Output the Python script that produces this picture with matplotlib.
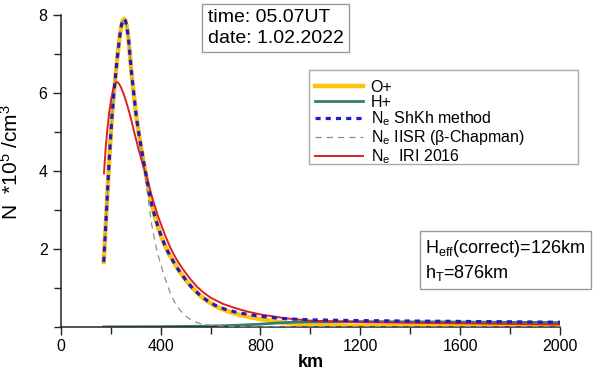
import matplotlib
matplotlib.use("Agg")
import matplotlib.pyplot as plt
from matplotlib.patches import Rectangle
from matplotlib.ticker import MultipleLocator

plt.rcParams['font.family'] = ['Liberation Sans', 'DejaVu Sans']
plt.rcParams['mathtext.fontset'] = 'custom'
plt.rcParams['mathtext.rm'] = 'Liberation Sans'
plt.rcParams['mathtext.it'] = 'Liberation Sans:italic'

# --- dane (km, N*1e5/cm3) ---
km_shkh = [172, 180, 189, 196, 205, 212, 219, 227, 235, 241, 247, 253, 259, 265, 272, 283,
           293, 303, 313, 323, 333, 343, 354, 365, 377, 389, 404, 420, 435, 449, 470, 490,
           506, 523, 540, 560, 590, 620, 660, 700, 750, 800, 850, 900, 1000, 1200, 1600, 2000]
n_shkh = [1.67, 2.6, 3.7, 4.5, 5.4, 5.95, 6.42, 6.95, 7.4, 7.68, 7.85, 7.91, 7.86, 7.7, 7.35, 6.55,
          5.95, 5.38, 4.95, 4.57, 4.2, 3.85, 3.46, 3.12, 2.84, 2.58, 2.3, 2.05, 1.86, 1.7, 1.48, 1.3,
          1.16, 1.03, 0.92, 0.8, 0.66, 0.55, 0.45, 0.38, 0.32, 0.27, 0.24, 0.21, 0.18, 0.16, 0.14, 0.12]

km_oplus = km_shkh
n_oplus = [1.67, 2.6, 3.7, 4.5, 5.4, 5.95, 6.42, 6.95, 7.4, 7.68, 7.85, 7.91, 7.86, 7.7, 7.35, 6.55,
           5.95, 5.38, 4.95, 4.57, 4.2, 3.85, 3.46, 3.12, 2.84, 2.58, 2.3, 2.05, 1.86, 1.7, 1.48, 1.3,
           1.16, 1.03, 0.92, 0.79, 0.65, 0.53, 0.42, 0.34, 0.26, 0.2, 0.15, 0.1, 0.05, 0.025, 0.015, 0.01]

km_hplus = [172, 400, 600, 700, 800, 870, 930, 1000, 1200, 1600, 2000]
n_hplus = [0.0, 0.005, 0.02, 0.04, 0.07, 0.1, 0.12, 0.13, 0.135, 0.125, 0.11]

km_iisr = [172, 180, 189, 196, 205, 212, 219, 227, 235, 241, 247, 253, 259, 265, 272, 283,
           293, 303, 313, 323, 333, 343, 354, 365, 374, 383, 391, 400, 411, 423, 436, 448,
           460, 474, 489, 504, 520, 538, 556, 578, 600, 650, 720, 800, 2000]
n_iisr = [1.67, 2.6, 3.7, 4.5, 5.4, 5.95, 6.42, 6.95, 7.4, 7.68, 7.85, 7.91, 7.86, 7.7, 7.35, 6.55,
          5.95, 5.38, 4.95, 4.57, 4.15, 3.65, 3.1, 2.6, 2.3, 2.02, 1.82, 1.62, 1.38, 1.15, 0.92, 0.74,
          0.59, 0.46, 0.35, 0.26, 0.19, 0.13, 0.09, 0.06, 0.04, 0.018, 0.008, 0.005, 0.003]

km_iri = [173, 180, 187, 194, 202, 210, 217, 223, 230, 240, 252, 265, 280, 295, 310, 325,
          343, 365, 389, 420, 440, 463, 480, 500, 520, 543, 570, 600, 650, 700, 750, 800, 900,
          1000, 1200, 1600, 2000]
n_iri = [3.94, 4.6, 5.1, 5.5, 5.85, 6.1, 6.24, 6.29, 6.27, 6.17, 5.98, 5.72, 5.38, 4.98, 4.6, 4.25,
         3.88, 3.35, 2.85, 2.32, 2.02, 1.74, 1.57, 1.39, 1.22, 1.05, 0.89, 0.75, 0.59, 0.48, 0.39, 0.32,
         0.22, 0.16, 0.12, 0.09, 0.06]

x_ticks = [0, 400, 800, 1200, 1600, 2000]
y_ticks = [2, 4, 6, 8]

W, H = 602, 374
fig = plt.figure(figsize=(W / 100, H / 100), dpi=100)
ax = fig.add_axes([0.101, 0.126, 0.829, 0.833])

ax.plot(km_oplus, n_oplus, color='#FFC20E', lw=3.2, label='O+', zorder=2)
ax.plot(km_hplus, n_hplus, color='#347E70', lw=2.0, label='H+', zorder=2)
ax.plot(km_shkh, n_shkh, color='#1C1CC8', lw=2.3, ls=(0, (1.6, 1.6)),
        label='N$_\\mathregular{e}$ ShKh method', zorder=4)
ax.plot(km_iisr, n_iisr, color='#8C8C8C', lw=0.9, ls=(0, (5, 4)),
        label='N$_\\mathregular{e}$ IISR (β-Chapman)', zorder=3)
ax.plot(km_iri, n_iri, color='#E0201E', lw=1.4, label='N$_\\mathregular{e}$  IRI 2016', zorder=3)

ax.set_xlim(0, 2000)
ax.set_ylim(0, 8)
ax.set_xticks(x_ticks)
ax.set_yticks(y_ticks)
ax.xaxis.set_minor_locator(MultipleLocator(200))
ax.yaxis.set_minor_locator(MultipleLocator(1))
ax.tick_params(which='major', direction='out', length=6, width=1, labelsize=11.5, color='#222222')
ax.tick_params(which='minor', direction='out', length=5, width=1, color='#222222')
ax.tick_params(axis='x', pad=3)
for s in ['top', 'right']:
    ax.spines[s].set_visible(False)
for s in ['left', 'bottom']:
    ax.spines[s].set_color('#222222')
    ax.spines[s].set_linewidth(1.1)

ax.set_xlabel('km', fontsize=13, fontweight='bold', labelpad=0)
ax.set_ylabel('N  *10$^\\mathregular{5}$ /cm$^\\mathregular{3}$', fontsize=15)
ax.yaxis.set_label_coords(-0.078, 0.53)

box = dict(boxstyle='square,pad=0.3', fc='white', ec='#999999', lw=1)
fig.text(0.345, 0.975, 'time: 05.07UT\ndate: 1.02.2022', fontsize=14, va='top', ha='left',
         linespacing=1.25, bbox=box)
fig.text(0.706, 0.364, 'H$_\\mathregular{eff}$(correct)=126km\nh$_\\mathregular{T}$=876km',
         fontsize=13, va='top', ha='left', linespacing=1.3, bbox=box)

# ramka legendy rysowana osobno (szersza niz tekst, jak w oryginale)
ax.add_patch(Rectangle((309 / W, 1 - 164 / H), (578 - 309) / W, (164 - 70) / H,
                       transform=fig.transFigure, fc='white', ec='#AAAAAA', lw=1,
                       zorder=5, clip_on=False))
leg = ax.legend(loc='upper left', bbox_to_anchor=(310 / W, 1 - 75 / H), bbox_transform=fig.transFigure,
                fontsize=11.5, frameon=False, handlelength=3.0,
                labelspacing=0.0, borderpad=0.3, handletextpad=0.5, borderaxespad=0)
leg.set_zorder(6)

fig.savefig('out.png', dpi=100)
